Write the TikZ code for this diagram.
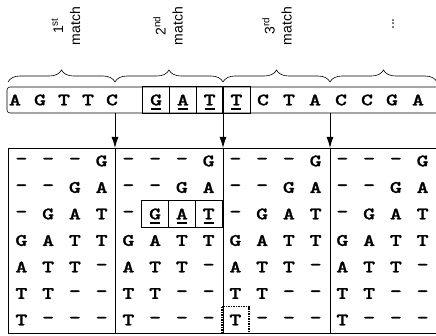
\documentclass[tikz,border=0pt]{standalone}
\usepackage{fontspec}
\setsansfont{Liberation Sans}
\newfontfamily\seqfam{lmmonolt10-bold.otf}[FakeStretch=1.3,FakeBold=1.2]
\usepackage{tikz}
\usetikzlibrary{arrows.meta,calc,decorations.pathreplacing}

\newcommand{\seqfont}{\fontsize{17.5}{17.5}\selectfont\seqfam}

\begin{document}
\begin{tikzpicture}[x=1pt,y=-1pt,>={Latex[length=11pt,width=7pt]}]
	\tikzstyle{cell} = [inner sep=0pt, minimum width=26.75pt, minimum height=26.5pt, font=\seqfont]
	\tikzstyle{seqcell} = [cell, minimum height=26pt]
	\tikzstyle{label} = [rotate=90, align=center, font=\fontsize{14}{17}\selectfont\sffamily]
	\tikzstyle{bracket} = [decorate, decoration={brace, amplitude=12pt}, line width=0.6pt]
	\useasboundingbox (0,0) rectangle (436,336);

	% labels over the braces
	\node [label] (m1) at (66,26) {1\textsuperscript{st}\\match};
	\node [label] (m2) at (168,26) {2\textsuperscript{nd}\\match};
	\node [label] (m3) at (277,26) {3\textsuperscript{rd}\\match};
	\node [label] (m4) at (393,24) {...};

	\foreach \a/\b in {8/115, 115/223, 223/330, 330/437}
		\draw [bracket] (\a,82) -- (\b,82);

	% sequence row
	\draw [line width=0.6pt, rounded corners=3pt] (437,87) -- (7,87) -- (7,113) -- (437,113);
	\foreach \ch/\x [count=\i] in {A/15, G/40, T/64, T/88, C/112, G/156.1, A/182.9, T/209.6, T/236.4,
		C/263, T/289, A/315, C/341, C/367, G/392, A/418}
		{ \node [seqcell] (s\i) at (\x,100) {\ch};}

	\foreach \i in {6,...,9}
		{ \draw [line width=0.9pt] (s\i.north west) rectangle (s\i.south east);
		  \draw [line width=1.6pt] ([xshift=-5pt,yshift=-3.5pt]s\i.base) -- ([xshift=5pt,yshift=-3.5pt]s\i.base);}

	% table
	\foreach \r/\pat in {1/{-,-,-,G}, 2/{-,-,G,A}, 3/{-,G,A,T}, 4/{G,A,T,T}, 5/{A,T,T,-}, 6/{T,T,-,-}, 7/{T,-,-,-}}
		\foreach \ch [count=\k from 0] in \pat
			\foreach \g in {0,...,3}
			{ \pgfmathtruncatemacro{\j}{4*\g+\k}
			  \node [cell] (r\r-c\j) at ({21.375+26.75*\j},{134.5+26.5*\r}) {\ch};}

	\draw [line width=0.6pt] (437,148) -- (8,148) -- (8,333) -- (437,333);

	\foreach \g/\x in {1/115, 2/223, 3/330}
		{ \coordinate (up\g) at (\x,113);
		  \coordinate (dn\g) at (\x,148);
		  \coordinate (end\g) at (\x,333);
		  \draw [line width=0.9pt, ->] (up\g) -- (dn\g);
		  \draw [line width=0.6pt] (dn\g) -- (end\g);}

	% matching substring in the table
	\foreach \j in {5,6,7}
		{ \draw [line width=0.9pt] (r3-c\j.north west) rectangle (r3-c\j.south east);
		  \draw [line width=1.6pt] ([xshift=-5pt,yshift=-3.5pt]r3-c\j.base) -- ([xshift=5pt,yshift=-3.5pt]r3-c\j.base);}

	\draw [line width=1.5pt, densely dotted] (r7-c8.north west) rectangle (r7-c8.south east);

\end{tikzpicture}
\end{document}
